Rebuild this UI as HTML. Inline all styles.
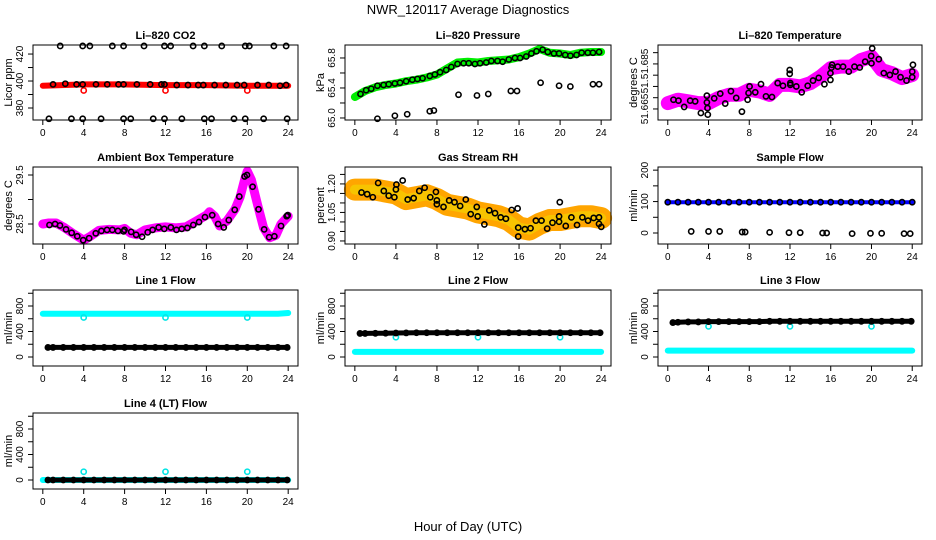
<!DOCTYPE html>
<html><head><meta charset="utf-8"><style>
body{margin:0;background:#fff}
svg{display:block;font-family:"Liberation Sans",sans-serif}
</style></head><body>
<svg id="chart" width="936" height="540" viewBox="0 0 936 540" xmlns="http://www.w3.org/2000/svg">
<rect width="936" height="540" fill="#fff"/>
<text x="468" y="14" text-anchor="middle" font-size="13">NWR_120117  Average Diagnostics</text>
<text x="468" y="531" text-anchor="middle" font-size="13">Hour of Day (UTC)</text>
</svg>
<script>
// ---- data ----
const xTicks=[0,4,8,12,16,20,24];
// CO2
const co2BandH=[0,4,8,12,16,20,24];
const co2BandV=[396.5,397.5,397.5,397,397,396.5,396.5];
const co2H=[1,2.2,3.3,3.9,5.2,6.3,7.4,7.9,9.2,10.5,11.6,11.9,13.1,14.2,15.2,15.7,16.8,17.9,19,19.7,21,22.1,23.2,23.8];
const co2V=[397.5,398,397.5,397.5,397.5,397.5,397.5,397.5,397.5,397.5,397.5,397.5,397,397,397,397,397,397,397,397,397,397,396.5,397];
const co2RedOutH=[4,12,20];
const co2RedOutV=[393,393,393];
const co2TopH=[1.7,3.9,4.6,6.8,7.9,9.9,11.9,12.5,14.7,15.8,17.5,19.8,20.2,22.6,23.8];
const co2TopV=[426,426,426,426,426,426,426,426,426,426,426,426,426,426,426];
const co2LowH=[0.6,2.8,3.9,5.7,7.9,8.6,10.8,11.9,13.6,15.8,16.5,18.7,19.8,21.6,23.9];
const co2LowV=[372,372,372,372,372,372,372,372,372,372,372,372,372,372,372];
// Pressure
const presBandH=[0,1,2,3,4,5,6,7,8,9,10,11,12,13,14,15,16,17,18,19,20,21,22,23,24];
const presBandV=[65.28,65.36,65.41,65.44,65.46,65.49,65.51,65.54,65.58,65.66,65.74,65.75,65.74,65.76,65.77,65.78,65.81,65.86,65.92,65.87,65.86,65.84,65.87,65.88,65.88];
const presH=[0.55,1.1,1.6,2.2,2.8,3.3,3.9,4.4,5,5.6,6.1,6.6,7.3,7.8,8.3,8.9,9.4,10,10.6,11.1,11.7,12.2,12.8,13.3,13.9,14.4,15,15.6,16.1,16.7,17.2,17.7,18.3,18.8,19.4,19.9,20.5,21,21.6,22.1,22.7,23.2,23.8];
const presV=[65.32,65.37,65.39,65.43,65.44,65.45,65.46,65.47,65.49,65.51,65.52,65.53,65.56,65.58,65.61,65.64,65.68,65.72,65.73,65.73,65.72,65.73,65.74,65.76,65.76,65.75,65.78,65.8,65.8,65.82,65.86,65.89,65.91,65.88,65.86,65.86,65.84,65.83,65.84,65.87,65.87,65.87,65.88];
const presLowH=[2.2,3.9,5.1,7.3,7.7,10.1,11.9,13,15.2,15.8,18.1,19.9,21,23.2,23.8];
const presLowV=[64.99,65.03,65.05,65.09,65.1,65.31,65.3,65.32,65.36,65.36,65.47,65.43,65.42,65.45,65.45];
// Temperature
const tempBandH=[0,1,2,3,4,5,6,7,8,9,10,11,12,13,14,15,16,17,18,19,20,21,22,23,24];
const tempBandV=[51.6676,51.6691,51.6684,51.6676,51.6676,51.6699,51.6713,51.6713,51.6735,51.6728,51.6713,51.6757,51.6757,51.675,51.6765,51.6794,51.6831,51.6838,51.6838,51.6868,51.6882,51.6823,51.6809,51.6787,51.6801];
const tempH=[0.56,1.05,1.61,2.2,2.69,3.25,3.84,3.84,3.9,3.93,4.56,5.15,5.64,6.2,6.72,7.28,7.84,7.93,8.03,8.59,9.15,9.64,10.23,10.79,11.31,11.97,11.97,12.03,12.03,12.62,13.15,13.74,14.26,14.82,15.38,15.97,15.97,16.07,16.13,16.69,17.21,17.77,18.33,18.85,19.38,19.97,20,20.07,20.72,21.21,21.8,22.36,22.85,23.44,24,24,24.07];
const tempV=[51.6691,51.6687,51.6659,51.6687,51.6684,51.6632,51.6709,51.6679,51.6654,51.6625,51.6697,51.6718,51.6674,51.6729,51.6699,51.6638,51.6691,51.6721,51.675,51.6724,51.676,51.6706,51.6703,51.6765,51.6753,51.6823,51.6806,51.6765,51.6757,51.675,51.6724,51.6753,51.6776,51.6788,51.676,51.6779,51.6809,51.6834,51.6846,51.6838,51.6838,51.6816,51.6838,51.6834,51.686,51.6885,51.6853,51.6919,51.6871,51.6809,51.6801,51.6816,51.6791,51.6776,51.6791,51.6816,51.6846];
// Ambient box temperature
const ambBandH=[0,0.6,1.3,2,3,4,4.6,5.5,6.5,7.5,8,8.6,9.2,10,11,12,13,14,15,16,16.3,16.8,17.3,18,18.8,19.3,19.8,20,20.4,21,21.6,22.2,22.8,23.3,24];
const ambBandV=[28.5,28.52,28.52,28.44,28.3,28.17,28.24,28.37,28.39,28.38,28.41,28.31,28.28,28.38,28.42,28.44,28.42,28.44,28.56,28.68,28.75,28.66,28.46,28.56,28.8,29.05,29.45,29.58,29.4,28.9,28.42,28.22,28.27,28.5,28.66];
const ambH=[0.65,1.2,1.68,2.27,2.82,3.37,3.95,4.53,5.18,5.73,6.28,6.8,7.35,7.9,7.99,8.64,9.13,9.71,10.26,10.74,11.33,11.88,12.52,13.07,13.59,14.14,14.72,15.28,15.86,16.57,17.15,17.7,18.19,18.77,19.22,19.74,19.97,20.52,21.1,21.65,22.14,22.65,23.3,23.85,23.95];
const ambV=[28.48,28.5,28.47,28.39,28.32,28.25,28.17,28.21,28.31,28.36,28.38,28.38,28.36,28.35,28.38,28.34,28.28,28.24,28.33,28.38,28.43,28.4,28.43,28.38,28.4,28.42,28.48,28.54,28.64,28.68,28.5,28.43,28.58,28.79,29.06,29.47,29.5,29.26,28.8,28.39,28.23,28.25,28.46,28.66,28.68];
// Gas stream RH
const rhBandH=[0,1,2,3,4,5,6,7,8,9,10,11,12,13,14,15,16,17,18,19,20,21,22,23,24];
const rhBandV=[1.17,1.17,1.17,1.16,1.15,1.12,1.13,1.14,1.12,1.09,1.08,1.07,1.05,1.04,1.03,1.01,0.97,0.96,0.99,1.01,1.01,1.02,1.03,1.03,1.02];
const rhH=[0.65,1.2,1.75,2.27,2.82,3.3,3.85,4,4.05,4.66,5.15,5.73,6.28,6.8,7.35,7.9,7.99,7.99,8.64,9.19,9.71,10.26,10.81,11.29,11.88,11.97,12.62,13.1,13.66,14.21,14.72,15.28,15.86,15.92,15.92,16.57,17.12,17.64,18.19,18.74,19.26,19.9,19.9,19.97,20.55,21.1,21.65,22.17,22.72,23.27,23.79,23.79,24.01];
const rhV=[1.155,1.146,1.13,1.205,1.163,1.138,1.13,1.171,1.197,1.218,1.118,1.125,1.163,1.18,1.13,1.158,1.113,1.093,1.079,1.113,1.104,1.084,1.118,1.041,1.079,1.029,0.987,1.061,1.046,1.024,1.017,1.063,1.071,0.97,0.923,0.962,0.967,1.007,1.007,0.965,0.996,1.001,1.029,1.104,0.979,1.024,0.984,1.024,1.007,1.021,1.024,0.99,0.974];
// Sample flow
const hourly=[0,1,2,3,4,5,6,7,8,9,10,11,12,13,14,15,16,17,18,19,20,21,22,23,24];
const sampleV=[98,98,98,98,98,98,98,98,98,98,98,98,98,98,98,98,98,98,98,98,98,98,98,98,98];
const sampleLowH=[2.3,4,5.1,7.3,7.6,10,11.9,13,15.2,15.6,18.1,19.9,21,23.2,23.8];
const sampleLowV=[5,5,5,3,3,2,1,1,0,0,-2,-1,-1,-2,-2];
// Line flows
const blackH=[0.5,1,2,3,4,5,6,7,8,9,10,11,12,13,14,15,16,17,18,19,20,21,22,23,23.9];
const line1Black=[150,150,150,150,150,150,150,150,150,150,150,150,150,150,150,150,150,150,150,150,150,150,150,150,150];
const line1Cyan=[680,680,680,680,680,680,680,680,680,680,680,680,680,680,680,680,680,680,680,680,680,680,680,680,690];
const line2Black=[370,370,372,374,376,378,380,380,380,380,380,380,380,380,380,380,380,380,380,380,380,380,380,380,380];
const line2Cyan=[80,80,80,80,80,80,80,80,80,80,80,80,80,80,80,80,80,80,80,80,80,80,80,80,80];
const line3Black=[540,545,550,550,555,555,555,555,555,555,560,560,560,560,560,560,560,560,560,560,560,560,560,560,560];
const line3Cyan=[100,100,100,100,100,100,100,100,100,100,100,100,100,100,100,100,100,100,100,100,100,100,100,100,100];
const line4Black=[0,0,0,0,0,0,0,0,0,0,0,0,0,0,0,0,0,0,0,0,0,0,0,0,0];
const line4Cyan=[0,0,0,0,0,0,0,0,0,0,0,0,0,0,0,0,0,0,0,0,0,0,0,0,0];
const outH=[4,12,20];
const line1Out=[620,620,620];
const line2Out=[310,310,310];
const line3Out=[480,480,480];
const line4Out=[130,130,130];

// ---- drawing ----
const NS="http://www.w3.org/2000/svg";
const svg=document.getElementById('chart');
function mk(tag,attrs,parent){const e=document.createElementNS(NS,tag);for(const k in attrs)e.setAttribute(k,attrs[k]);(parent||svg).appendChild(e);return e;}
function panel(name,title,box,ylim,yticks,ylabels,ytitle){
  const g=mk('g',{});
  
  
  const [x0,y0,x1,y1]=box;
  const sx=h=>x0+(h+0.96)/25.92*(x1-x0);
  const sy=v=>y1-(v-ylim[0])/(ylim[1]-ylim[0])*(y1-y0);
  const t=mk('text',{x:(x0+x1)/2,y:y0-6,'text-anchor':'middle','font-size':11,'font-weight':'bold'},g);
  t.textContent=title;
  
  
  const plot=mk('g',{},g);
  const r=mk('rect',{x:x0,y:y0,width:x1-x0,height:y1-y0,fill:'none',stroke:'#000','stroke-width':1},g);
  
  
  xTicks.forEach(h=>{
    mk('line',{x1:sx(h),x2:sx(h),y1:y1,y2:y1+5,stroke:'#000'},g);
    const l=mk('text',{x:sx(h),y:y1+16,'text-anchor':'middle','font-size':10},g);
    l.textContent=h;
    
    
  });
  yticks.forEach((v,i)=>{
    mk('line',{x1:x0,x2:x0-5,y1:sy(v),y2:sy(v),stroke:'#000'},g);
    if(ylabels[i]!==''){
      const l=mk('text',{x:0,y:0,'text-anchor':'middle','font-size':10,transform:`translate(${x0-10},${sy(v)}) rotate(-90)`},g);
      l.textContent=ylabels[i];
      
      
    }
  });
  const yt=mk('text',{x:0,y:0,'text-anchor':'middle','font-size':11,transform:`translate(${x0-21},${(y0+y1)/2}) rotate(-90)`},g);
  yt.textContent=ytitle;
  
  
  return {sx,sy,plot};
}
function band(p,H,V,color,w,name){
  const d=H.map((h,i)=>(i?'L':'M')+p.sx(h).toFixed(1)+' '+p.sy(V[i]).toFixed(1)).join(' ');
  const e=mk('path',{d,fill:'none',stroke:color,'stroke-width':w,'stroke-linecap':'round','stroke-linejoin':'round'},p.plot);
  
  
}
function pts(p,H,V,color,name,r){
  H.forEach((h,i)=>{
    const c=mk('circle',{cx:p.sx(h),cy:p.sy(V[i]),r:r||2.6,fill:'none',stroke:color,'stroke-width':1.6},p.plot);
    
    
  });
}
const R=[[45,120],[167,244],[290,366],[413,489]];
const C=[[33,298],[345,611],[658,922]];
const flowTicks=[0,200,400,600,800,1000], flowLabels=['0','','400','','800',''];

// Row 1
let p=panel('co2-panel','Li–820 CO2',[C[0][0],R[0][0],C[0][1],R[0][1]],[371.1,426.7],[380,390,400,410,420],['380','','400','','420'],'Licor ppm');
band(p,co2BandH,co2BandV,'#ff0000',6,'co2-red-band');
pts(p,co2RedOutH,co2RedOutV,'#ff0000','co2-red-point');
pts(p,co2H,co2V,'#000','co2-point');
pts(p,co2TopH,co2TopV,'#000','co2-high-point');
pts(p,co2LowH,co2LowV,'#000','co2-low-point');

p=panel('pressure-panel','Li–820 Pressure',[C[1][0],R[0][0],C[1][1],R[0][1]],[64.973,65.973],[65.0,65.2,65.4,65.6,65.8],['65.0','','65.4','','65.8'],'kPa');
band(p,presBandH,presBandV,'#00ee00',8,'pressure-green-band');
pts(p,presH,presV,'#000','pressure-point');
pts(p,presLowH,presLowV,'#000','pressure-low-point');

p=panel('temperature-panel','Li–820 Temperature',[C[2][0],R[0][0],C[2][1],R[0][1]],[51.6601,51.6934],[51.665,51.67,51.675,51.68,51.685,51.69],['51.665','','51.','','51.685',''],'degrees C');
band(p,tempBandH,tempBandV,'#ff00ff',14,'temperature-magenta-band');
pts(p,tempH,tempV,'#000','temperature-point');

// Row 2
p=panel('ambient-panel','Ambient Box Temperature',[C[0][0],R[1][0],C[0][1],R[1][1]],[28.092,29.663],[28.5,29.0,29.5],['28.5','','29.5'],'degrees C');
band(p,ambBandH,ambBandV,'#ff00ff',9,'ambient-magenta-band');
pts(p,ambH,ambV,'#000','ambient-point');

p=panel('rh-panel','Gas Stream RH',[C[1][0],R[1][0],C[1][1],R[1][1]],[0.884,1.289],[0.9,0.95,1.0,1.05,1.1,1.15,1.2,1.25],['0.90','','','1.05','','','1.20',''],'percent');
band(p,rhBandH,rhBandV,'#ffa500',22,'rh-orange-band');
band(p,rhBandH,rhBandV,'#f7c400',10,'rh-yellow-band');
pts(p,rhH,rhV,'#000','rh-point');

p=panel('sample-flow-panel','Sample Flow',[C[2][0],R[1][0],C[2][1],R[1][1]],[-35,210],[0,50,100,150,200],['0','','100','','200'],'ml/min');
band(p,hourly,sampleV,'#0000ff',4,'sample-flow-blue-line');
pts(p,hourly,sampleV,'#000','sample-flow-point');
pts(p,sampleLowH,sampleLowV,'#000','sample-flow-low-point');

// Rows 3-4
function flow(name,title,c,r,black,cyan,out){
  const q=panel(name,title,[C[c][0],R[r][0],C[c][1],R[r][1]],[-141,1051],flowTicks,flowLabels,'ml/min');
  band(q,hourly,cyan,'#00ffff',6,name+'-cyan-band');
  pts(q,outH,out,'#00e5e5',name+'-cyan-outlier');
  band(q,blackH,black,'#000',5,name+'-black-line');
  pts(q,blackH,black,'#000',name+'-black-point');
}
flow('line1-flow-panel','Line 1 Flow',0,2,line1Black,line1Cyan,line1Out);
flow('line2-flow-panel','Line 2 Flow',1,2,line2Black,line2Cyan,line2Out);
flow('line3-flow-panel','Line 3 Flow',2,2,line3Black,line3Cyan,line3Out);
flow('line4-flow-panel','Line 4 (LT) Flow',0,3,line4Black,line4Cyan,line4Out);
</script>
</body></html>
